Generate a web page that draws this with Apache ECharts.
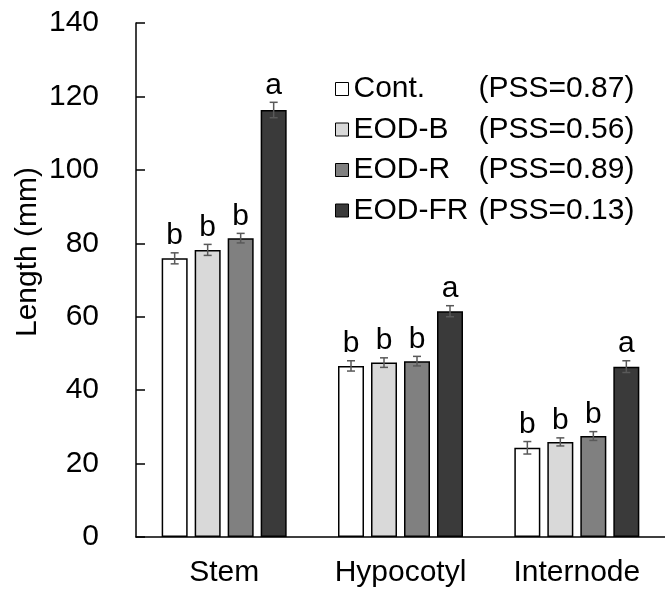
<!DOCTYPE html>
<html>
<head>
<meta charset="utf-8">
<script src="https://cdn.jsdelivr.net/npm/echarts@6/dist/echarts.min.js"></script>
<style>
  html, body { margin: 0; padding: 0; background: #fff; }
  #chart { width: 665px; height: 594px; }
</style>
</head>
<body>
<div id="chart"></div>
<script>
// Organ lengths (mm) under end-of-day light treatments
const categories = ['Stem', 'Hypocotyl', 'Internode'];
const treatments = ['Cont.', 'EOD-B', 'EOD-R', 'EOD-FR'];
const pssValues = ['0.87', '0.56', '0.89', '0.13'];

const contMean = [75.9, 46.6, 24.3];
const eodBMean = [78.2, 47.5, 25.9];
const eodRMean = [81.4, 47.9, 27.5];
const eodFRMean = [116.3, 61.5, 46.4];

const contErr = [1.5, 1.4, 1.7];
const eodBErr = [1.5, 1.3, 1.1];
const eodRErr = [1.3, 1.3, 1.2];
const eodFRErr = [2.1, 1.5, 1.6];

const contSig = ['b', 'b', 'b'];
const eodBSig = ['b', 'b', 'b'];
const eodRSig = ['b', 'b', 'b'];
const eodFRSig = ['a', 'a', 'a'];

const yTicks = { min: 0, max: 140, interval: 20 };

const means = [contMean, eodBMean, eodRMean, eodFRMean];
const errs = [contErr, eodBErr, eodRErr, eodFRErr];
const sigs = [contSig, eodBSig, eodRSig, eodFRSig];
const fills = ['#ffffff', '#d9d9d9', '#808080', '#3a3a3a'];

const FONT = '"Liberation Sans", Arial, sans-serif';
const AXIS_FS = 30;
const LEGEND_FS = 30;
const BAR_W = 26;
const BAR_GAP = 7;

const chart = echarts.init(document.getElementById('chart'), null, { renderer: 'canvas' });

const barSeries = treatments.map((name, i) => ({
  name: name,
  type: 'bar',
  barWidth: BAR_W,
  barGap: (BAR_GAP / BAR_W * 100) + '%',
  data: means[i],
  itemStyle: { color: fills[i], borderColor: '#000', borderWidth: 1.5 },
  z: 2
}));

// Error bars and significance letters, one custom series per treatment
const errSeries = treatments.map((name, i) => ({
  type: 'custom',
  name: name + '-err',
  data: categories.map((c, k) => [k, means[i][k], errs[i][k]]),
  z: 5,
  renderItem: function (params, api) {
    const k = api.value(0);
    const v = api.value(1);
    const e = api.value(2);
    const base = api.coord([k, v]);
    const x = base[0] + (i - 1.5) * (BAR_W + BAR_GAP);
    const yTop = api.coord([k, v + e])[1];
    const yBot = api.coord([k, v - e])[1];
    const cap = 4;
    const st = { stroke: '#595959', lineWidth: 1.5 };
    return {
      type: 'group',
      children: [
        { type: 'line', shape: { x1: x, y1: yTop, x2: x, y2: yBot }, style: st },
        { type: 'line', shape: { x1: x - cap, y1: yTop, x2: x + cap, y2: yTop }, style: st },
        { type: 'line', shape: { x1: x - cap, y1: yBot, x2: x + cap, y2: yBot }, style: st },
        {
          type: 'text',
          style: {
            text: sigs[i][k],
            x: x,
            y: yTop - 2,
            align: 'center',
            verticalAlign: 'bottom',
            font: AXIS_FS + 'px ' + FONT,
            fill: '#000'
          }
        }
      ]
    };
  }
}));

chart.setOption({
  animation: false,
  backgroundColor: '#fff',
  textStyle: { fontFamily: FONT },
  grid: { left: 136, right: 0, top: 23, bottom: 57, containLabel: false },
  legend: {
    data: treatments,
    orient: 'vertical',
    left: 335,
    top: 74,
    padding: 0,
    icon: 'rect',
    itemWidth: 13,
    itemHeight: 13,
    itemGap: 10.5,
    itemStyle: { borderColor: '#000', borderWidth: 1 },
    textStyle: {
      fontSize: LEGEND_FS,
      fontFamily: FONT,
      color: '#000',
      lineHeight: 30,
      rich: {
        n: { fontSize: LEGEND_FS, fontFamily: FONT, color: '#000', width: 125 },
        p: { fontSize: LEGEND_FS, fontFamily: FONT, color: '#000' }
      }
    },
    formatter: function (name) {
      const idx = treatments.indexOf(name);
      return '{n|' + name + '}{p|(PSS=' + pssValues[idx] + ')}';
    }
  },
  xAxis: {
    type: 'category',
    data: categories,
    axisTick: { show: false },
    axisLine: { lineStyle: { color: '#000', width: 1.5 } },
    axisLabel: { fontSize: AXIS_FS, color: '#000', margin: 21, fontFamily: FONT }
  },
  yAxis: {
    type: 'value',
    min: yTicks.min,
    max: yTicks.max,
    interval: yTicks.interval,
    splitLine: { show: false },
    axisLine: { show: true, lineStyle: { color: '#000', width: 1.5 } },
    axisTick: { show: true, inside: true, length: 9, lineStyle: { color: '#000', width: 1.5 } },
    axisLabel: { fontSize: AXIS_FS, color: '#000', margin: 37, fontFamily: FONT }
  },
  graphic: [{
    type: 'text',
    x: 28,
    y: 252,
    rotation: Math.PI / 2,
    style: {
      text: 'Length (mm)',
      font: AXIS_FS + 'px ' + FONT,
      fill: '#000',
      align: 'center',
      verticalAlign: 'middle'
    }
  }],
  series: barSeries.concat(errSeries)
});
</script>
</body>
</html>
